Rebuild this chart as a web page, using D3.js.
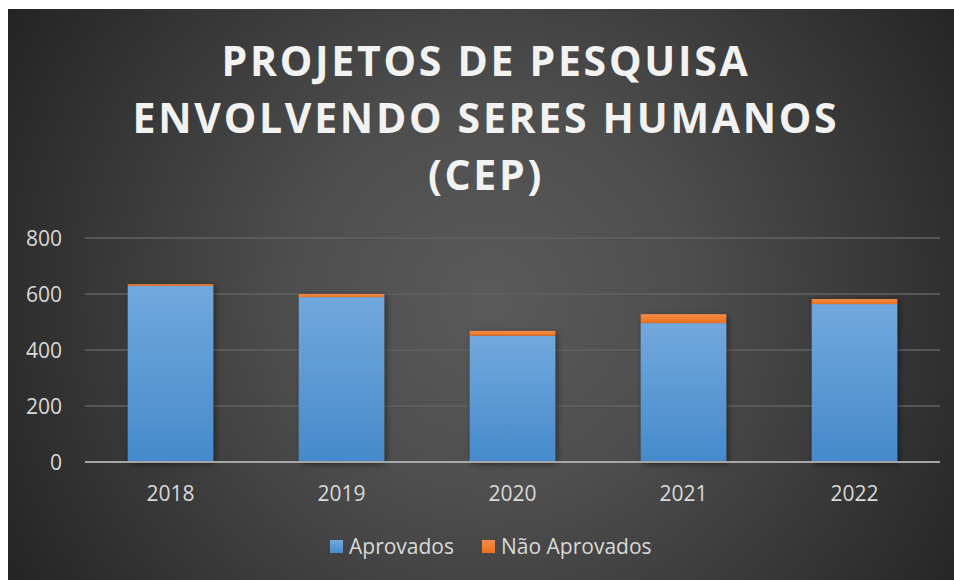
<!DOCTYPE html>
<html><head><meta charset="utf-8">
<script src="https://cdn.jsdelivr.net/npm/d3@7"></script>
<style>html,body{margin:0;padding:0;background:#fff;}svg{display:block;}</style>
</head><body>
<svg id="c" width="954" height="580"></svg>
<script>
const years = ["2018","2019","2020","2021","2022"];
const aprovados = [629, 589, 451, 496, 564];
const naoAprovados = [6, 11, 17, 32, 18];
const yTicks = [0, 200, 400, 600, 800];
const titleLines = ["PROJETOS DE PESQUISA", "ENVOLVENDO SERES HUMANOS", "(CEP)"];
const seriesNames = ["Aprovados", "Não Aprovados"];

const svg = d3.select("#c");
const defs = svg.append("defs");
const bg = defs.append("radialGradient").attr("id","bg")
  .attr("gradientUnits","userSpaceOnUse").attr("cx",490).attr("cy",300).attr("r",560);
bg.append("stop").attr("offset","0").attr("stop-color","#5a5a5a");
bg.append("stop").attr("offset","0.35").attr("stop-color","#4e4e4e");
bg.append("stop").attr("offset","1").attr("stop-color","#242424");
const gb = defs.append("linearGradient").attr("id","gb").attr("x1",0).attr("y1",0).attr("x2",0).attr("y2",1);
gb.append("stop").attr("offset","0").attr("stop-color","#72a8dd");
gb.append("stop").attr("offset","1").attr("stop-color","#468acb");
const go = defs.append("linearGradient").attr("id","go").attr("x1",0).attr("y1",0).attr("x2",0).attr("y2",1);
go.append("stop").attr("offset","0").attr("stop-color","#f68c48");
go.append("stop").attr("offset","1").attr("stop-color","#e8711e");
const sh = defs.append("filter").attr("id","sh").attr("x","-20%").attr("y","-20%").attr("width","140%").attr("height","140%");
sh.append("feDropShadow").attr("dx",2).attr("dy",2).attr("stdDeviation",3).attr("flood-color","#000").attr("flood-opacity",0.45);

svg.append("rect").attr("x",8).attr("y",9).attr("width",946).attr("height",571).attr("fill","url(#bg)");

const x = d3.scaleBand().domain(years).range([85, 940]).paddingInner(0.5).paddingOuter(0.25);
const y = d3.scaleLinear().domain([0, 800]).range([462, 238]);

// gridlines
svg.append("g").selectAll("line").data(yTicks.filter(d=>d>0)).join("line")
  .attr("x1",85).attr("x2",940).attr("y1",d=>y(d)).attr("y2",d=>y(d))
  .attr("stroke","#626262").attr("stroke-width",1.5);

// y axis labels
const yAxis = d3.axisLeft(y).tickValues(yTicks).tickSize(0).tickPadding(0);
const ya = svg.append("g").attr("transform","translate(62,0)").call(yAxis);
ya.select(".domain").remove();
ya.selectAll("text").attr("fill","#d9d9d9").attr("font-family","Open Sans").attr("font-size",21).attr("dy","0.35em");

// bars
const data = years.map((yr,i)=>({yr, a:aprovados[i], n:naoAprovados[i]}));
const bars = svg.append("g");
bars.selectAll("g").data(data).join("g").attr("filter","url(#sh)").each(function(d){
  const g = d3.select(this);
  g.append("rect").attr("x",x(d.yr)).attr("width",x.bandwidth())
   .attr("y",y(d.a)).attr("height",y(0)-y(d.a)).attr("fill","url(#gb)");
  g.append("rect").attr("x",x(d.yr)).attr("width",x.bandwidth())
   .attr("y",y(d.a+d.n)).attr("height",y(d.a)-y(d.a+d.n)).attr("fill","url(#go)");
});

// x axis
const xAxis = d3.axisBottom(x).tickSize(0).tickPadding(0);
const xa = svg.append("g").attr("transform","translate(0,462)").call(xAxis);
xa.select(".domain").remove();
xa.selectAll("text").attr("fill","#d9d9d9").attr("font-family","Open Sans").attr("font-size",21).attr("dy","39");
svg.append("line").attr("x1",85).attr("x2",940).attr("y1",462).attr("y2",462)
  .attr("stroke","#a6a6a6").attr("stroke-width",2);

// title
const baselines = [76, 133, 190];
svg.append("g").selectAll("text").data(titleLines).join("text")
  .attr("x",486).attr("y",(d,i)=>baselines[i]).attr("text-anchor","middle")
  .attr("font-family","Open Sans").attr("font-weight","bold").attr("font-size",41)
  .attr("letter-spacing",2.7).attr("fill","#f2f2f2").text(d=>d);

// legend
const colors = ["url(#gb)","url(#go)"];
const lg = svg.append("g");
const lx = [330, 482];
seriesNames.forEach((s,i)=>{
  lg.append("rect").attr("x",lx[i]).attr("y",540).attr("width",13).attr("height",13).attr("fill",colors[i]);
  lg.append("text").attr("x",lx[i]+19).attr("y",554).attr("font-family","Open Sans").attr("font-size",21)
    .attr("fill","#d9d9d9").text(s);
});
</script>
</body></html>
